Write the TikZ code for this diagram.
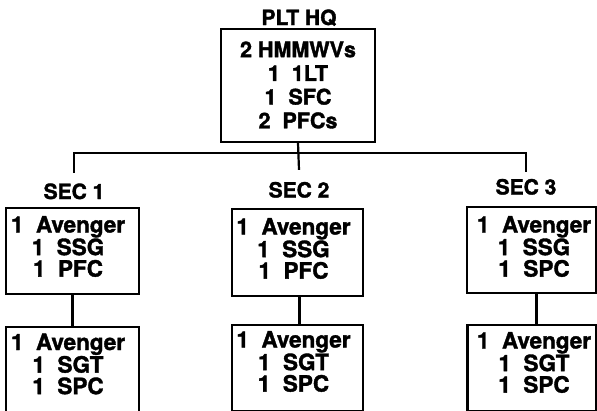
\documentclass[tikz,border=0pt]{standalone}
\usepackage{fontspec}
\setmainfont{TeX Gyre Heros}[BoldFeatures={FakeBold=1.6}]
\begin{document}
\begin{tikzpicture}[x=1pt,y=-1pt,
  frame/.style={draw, line width=2.2pt, minimum width=#1, inner sep=0pt},
  txt/.style={align=center, inner sep=0pt, font=\fontsize{22.5}{21.5}\selectfont\bfseries},
  hqtxt/.style={align=center, inner sep=0pt, font=\fontsize{21.5}{23.7}\selectfont\bfseries},
  lbl/.style={inner sep=0pt, text height=15pt, text depth=0pt, font=\fontsize{21}{21}\selectfont\bfseries},
  conn/.style={line width=2.2pt}]
\path[use as bounding box] (0,0) rectangle (597,410);

% HQ
\node[lbl] (hqlbl) at (299,17.5) {PLT HQ};
\node[frame=154pt, minimum height=113pt] (hq) at (298,85.5) {};
\node[hqtxt] (hqt) at (298,85) {2 HMMWVs\\1~~1LT\\1~~SFC\\2~~PFCs};

% section labels
\node[lbl] (l1) at (74,191.5) {SEC 1};
\node[lbl] (l2) at (299,190) {SEC 2};
\node[lbl] (l3) at (526,187) {SEC 3};

% upper boxes
\node[frame=133pt, minimum height=86pt] (b1) at (72.5,251) {};
\node[txt] (b1t) at (68,246.5) {1~~Avenger\\1~~SSG\\1~~PFC};
\node[frame=131pt, minimum height=87pt] (b2) at (297.5,252.5) {};
\node[txt] (b2t) at (293.5,248.5) {1~~Avenger\\1~~SSG\\1~~PFC};
\node[frame=129pt, minimum height=86pt] (b3) at (531.5,250) {};
\node[txt] (b3t) at (534,246.5) {1~~Avenger\\1~~SSG\\1~~SPC};

% lower boxes
\node[frame=133pt, minimum height=86pt] (c1) at (72.5,370) {};
\node[txt] (c1t) at (68,364) {1~~Avenger\\1~~SGT\\1~~SPC};
\node[frame=131pt, minimum height=86pt] (c2) at (297.5,368) {};
\node[txt] (c2t) at (293.5,361.5) {1~~Avenger\\1~~SGT\\1~~SPC};
\node[frame=129pt, minimum height=86pt] (c3) at (532,368) {};
\node[txt] (c3t) at (534,362.5) {1~~Avenger\\1~~SGT\\1~~SPC};

% connectors
\coordinate (bar) at (298,153);
\draw[conn] (hq.south) -- ([yshift=12.5pt]l2.north);
\draw[conn] ([yshift=11pt]l1.north) -- (l1.north |- bar) -- (l3.north |- bar) -- ([yshift=7.5pt]l3.north);
\draw[conn] (b1.south) -- (c1.north);
\draw[conn] ([xshift=2pt]b2.south) -- ([xshift=2pt]c2.north);
\draw[conn] ([xshift=5pt]b3.south) -- ([xshift=5pt]b3.south |- c3.north);
\end{tikzpicture}
\end{document}
